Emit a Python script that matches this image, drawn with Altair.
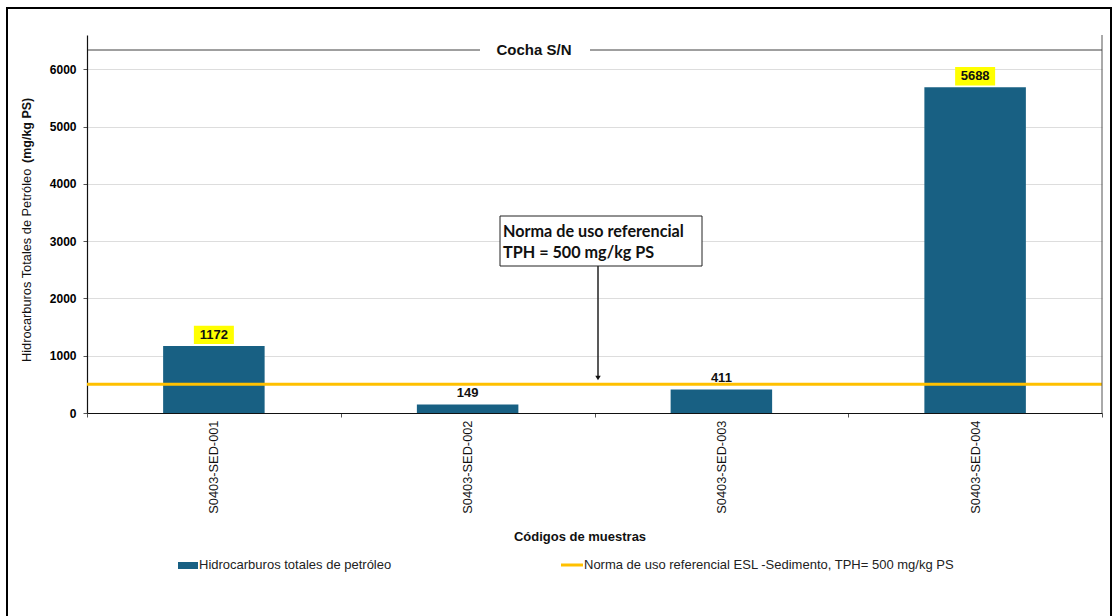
import altair as alt
import pandas as pd

# ---- data ----
samples = ["S0403-SED-001", "S0403-SED-002", "S0403-SED-003", "S0403-SED-004"]
tph = [1172, 149, 411, 5688]
norma = 500

title_text = "Cocha S/N"
y_title_normal = "Hidrocarburos Totales de Petróleo "
y_title_bold = "(mg/kg PS)"
x_title = "Códigos de muestras"
legend_bar = "Hidrocarburos totales de petróleo"
legend_line = "Norma de uso referencial ESL -Sedimento, TPH= 500 mg/kg PS"
note_lines = ["Norma de uso referencial", "TPH = 500 mg/kg PS"]
y_ticks = [0, 1000, 2000, 3000, 4000, 5000, 6000]

df = pd.DataFrame({"sample": samples, "value": tph})

W, H = 1015, 378
BAR = "#186083"
YEL = "#FFC000"
NARROW = "Liberation Sans Narrow, Arial Narrow, Liberation Sans, Arial"
ARIAL = "Liberation Sans, Arial"

x_enc = alt.X(
    "sample:N",
    sort=samples,
    scale=alt.Scale(paddingInner=0, paddingOuter=0),
    axis=alt.Axis(
        title=None,
        labelAngle=270,
        labelFont=ARIAL,
        labelFontSize=12.8,
        labelColor="#111111",
        labelPadding=3,
        tickSize=4,
        tickBand="extent",
        tickColor="#555555",
        domainColor="#111111",
        domainWidth=1.2,
        grid=False,
    ),
)
y_enc = alt.Y(
    "value:Q",
    scale=alt.Scale(domain=[0, 6600], nice=False),
    axis=alt.Axis(
        title=None,
        values=y_ticks,
        format="d",
        labelFont=ARIAL,
        labelFontSize=12,
        labelFontWeight="bold",
        labelColor="#000000",
        labelPadding=7,
        tickSize=4,
        tickColor="#555555",
        domainColor="#111111",
        domainWidth=1.2,
        gridColor="#dddddd",
        gridWidth=1,
    ),
)

base = alt.Chart(df)

bars = base.mark_bar(color=BAR, width=alt.RelativeBandSize(0.4)).encode(x=x_enc, y=y_enc)

norm_line = alt.Chart(pd.DataFrame({"n": [norma]})).mark_rule(color=YEL, strokeWidth=3).encode(
    y=alt.Y("n:Q", scale=alt.Scale(domain=[0, 6600], nice=False))
)

hl = (
    base.transform_filter(alt.datum.value > norma)
    .mark_point(
        shape="M-1,-0.46L1,-0.46L1,0.46L-1,0.46Z",
        filled=True,
        color="#FFFF00",
        opacity=1,
        size=1600,
        yOffset=-11,
    )
    .encode(x=alt.X("sample:N", sort=samples), y="value:Q")
)

labels = base.mark_text(
    font=ARIAL, fontSize=13, fontWeight="bold", color="#111111", dy=-11, baseline="middle"
).encode(x=alt.X("sample:N", sort=samples), y="value:Q", text="value:Q")

# right border of plot area
right_edge = alt.Chart(pd.DataFrame({"a": [0]})).mark_rule(color="#555555", strokeWidth=1).encode(
    x=alt.value(W), y=alt.value(0), y2=alt.value(H)
)

one = pd.DataFrame({"a": [0]})

# outer frame
frame = alt.Chart(one).mark_rect(fill=None, stroke="#000000", strokeWidth=2).encode(
    x=alt.value(-80), x2=alt.value(1024), y=alt.value(-27), y2=alt.value(600)
)

# title with side rules
t_rule1 = alt.Chart(one).mark_rule(color="#404040", strokeWidth=1).encode(
    x=alt.value(1), x2=alt.value(393), y=alt.value(15)
)
t_rule2 = alt.Chart(one).mark_rule(color="#404040", strokeWidth=1).encode(
    x=alt.value(503), x2=alt.value(W), y=alt.value(15)
)
t_text = alt.Chart(one).mark_text(
    text=title_text, font=NARROW, fontSize=15, fontWeight="bold", color="#111111",
    align="center", baseline="middle",
).encode(x=alt.value(447), y=alt.value(15))

# annotation box + arrow
box = alt.Chart(one).mark_rect(fill="white", stroke="#222222", strokeWidth=1).encode(
    x=alt.value(413), x2=alt.value(615), y=alt.value(181), y2=alt.value(231)
)
note1 = alt.Chart(one).mark_text(
    text=note_lines[0], font="Lato, Open Sans", fontSize=16.2, fontWeight="bold",
    color="#111111", align="left", baseline="middle",
).encode(x=alt.value(416), y=alt.value(197))
note2 = alt.Chart(one).mark_text(
    text=note_lines[1], font="Lato, Open Sans", fontSize=16.2, fontWeight="bold",
    color="#111111", align="left", baseline="middle",
).encode(x=alt.value(416), y=alt.value(218))
arrow = alt.Chart(one).mark_rule(color="#222222", strokeWidth=1.5).encode(
    x=alt.value(511), y=alt.value(231), y2=alt.value(342)
)
arrow_head = alt.Chart(one).mark_point(
    shape="triangle-down", filled=True, color="#111111", size=30, opacity=1
).encode(x=alt.value(511), y=alt.value(343))

# y title (mixed weight)
yt1 = alt.Chart(one).mark_text(
    text=y_title_normal, font=ARIAL, fontSize=12.8, color="#111111",
    angle=270, align="left", baseline="middle",
).encode(x=alt.value(-60), y=alt.value(327))
yt2 = alt.Chart(one).mark_text(
    text=y_title_bold, font=ARIAL, fontSize=12.5, fontWeight="bold", color="#111111",
    angle=270, align="left", baseline="middle",
).encode(x=alt.value(-60), y=alt.value(128))

# x title
xt = alt.Chart(one).mark_text(
    text=x_title, font=NARROW, fontSize=13, fontWeight="bold", color="#111111",
    align="center", baseline="middle",
).encode(x=alt.value(493), y=alt.value(502))

# legend
lg_sw = alt.Chart(one).mark_rect(color=BAR).encode(
    x=alt.value(91), x2=alt.value(111), y=alt.value(527), y2=alt.value(534)
)
lg_t1 = alt.Chart(one).mark_text(
    text=legend_bar, font=NARROW, fontSize=13, color="#222222", align="left", baseline="middle"
).encode(x=alt.value(112), y=alt.value(530))
lg_ln = alt.Chart(one).mark_rule(color=YEL, strokeWidth=3).encode(
    x=alt.value(474), x2=alt.value(496), y=alt.value(530)
)
lg_t2 = alt.Chart(one).mark_text(
    text=legend_line, font=NARROW, fontSize=13, color="#222222", align="left", baseline="middle"
).encode(x=alt.value(497), y=alt.value(530))

chart = alt.layer(
    bars, norm_line, hl, labels, right_edge, frame, t_rule1, t_rule2, t_text,
    arrow, arrow_head, box, note1, note2, yt1, yt2, xt, lg_sw, lg_t1, lg_ln, lg_t2,
).properties(
    width=W,
    height=H,
    autosize=alt.AutoSizeParams(type="none"),
    padding={"left": 87, "top": 35, "right": 11, "bottom": 203},
    background="white",
).configure_view(stroke=None)

chart.save("out.html", embed_options={"renderer": "svg", "actions": False})
